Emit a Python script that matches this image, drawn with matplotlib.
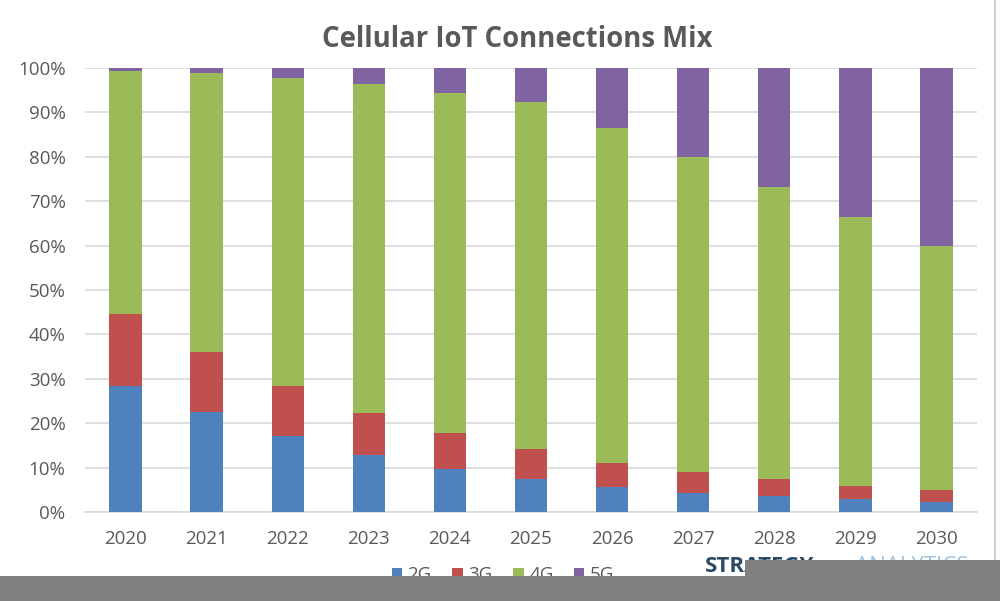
import matplotlib
matplotlib.use("Agg")
import matplotlib.pyplot as plt
from matplotlib.patches import Rectangle
from matplotlib.ticker import FuncFormatter, MultipleLocator
import numpy as np

years = ["2020", "2021", "2022", "2023", "2024", "2025", "2026", "2027", "2028", "2029", "2030"]
share_2g = [28.4, 22.5, 17.1, 12.8, 9.7, 7.4, 5.6, 4.3, 3.6, 2.9, 2.3]
share_3g = [16.2, 13.5, 11.3, 9.5, 8.1, 6.8, 5.4, 4.7, 3.8, 3.0, 2.7]
share_4g = [54.7, 62.9, 69.3, 74.1, 76.6, 78.1, 75.5, 71.0, 65.8, 60.5, 54.9]
share_5g = [0.7, 1.1, 2.3, 3.6, 5.6, 7.7, 13.5, 20.0, 26.8, 33.6, 40.1]
series_names = ["2G", "3G", "4G", "5G"]
colors = ["#4f81bd", "#c0504d", "#9bbb59", "#8064a2"]

plt.rcParams['font.family'] = ['Open Sans', 'DejaVu Sans']

fig = plt.figure(figsize=(10.0, 6.01), dpi=100)
ax = fig.add_axes([0.085, 0.148, 0.892, 0.739])

x = np.arange(len(years))
bottom = np.zeros(len(years))
handles = []
for name, vals, c in zip(series_names, [share_2g, share_3g, share_4g, share_5g], colors):
    b = ax.bar(x, vals, bottom=bottom, width=0.4, color=c, label=name, zorder=3)
    handles.append(b)
    bottom = bottom + np.array(vals)

ax.set_xlim(-0.5, len(years) - 0.5)
ax.set_ylim(0, 100)
ax.yaxis.set_major_locator(MultipleLocator(10))
ax.yaxis.set_major_formatter(FuncFormatter(lambda v, p: f"{int(round(v))}%"))
ax.set_xticks(x)
ax.set_xticklabels(years)
ax.grid(axis='y', color='#d9d9d9', linewidth=1.2, zorder=0)
for s in ['top', 'right', 'left']:
    ax.spines[s].set_visible(False)
ax.spines['bottom'].set_color('#d9d9d9')
ax.spines['bottom'].set_linewidth(1.2)
ax.tick_params(axis='both', length=0, labelsize=13.5, colors='#595959')
ax.tick_params(axis='y', pad=14)
ax.tick_params(axis='x', pad=13)

fig.text(0.517, 0.934, "Cellular IoT Connections Mix", ha='center', va='center',
         fontsize=19.8, fontweight='bold', color='#595959')

leg = fig.legend(handles=handles, labels=series_names, loc='center', bbox_to_anchor=(0.503, 0.043),
                 ncol=4, frameon=False, fontsize=13.5, handlelength=0.55, handleheight=0.55,
                 handletextpad=0.3, columnspacing=1.1, labelcolor='#595959')

# logo text
fig.text(0.705, 0.058, "STRATEGY", ha='left', va='center', fontsize=16, fontweight='bold', color='#2b4a66')
fig.text(0.855, 0.058, "ANALYTICS", ha='left', va='center', fontsize=16, color='#9cc3e0')

# right border line
fig.add_artist(plt.Line2D([0.995, 0.995], [0.0, 1.0], color='#d0d0d0', linewidth=1.5, zorder=5))

# gray cover band
fig.add_artist(Rectangle((0, 0), 1, 1 - 576 / 601, facecolor='#808080', edgecolor='none',
                         transform=fig.transFigure, zorder=10))
fig.add_artist(Rectangle((0.745, 0), 0.255, 1 - 560 / 601, facecolor='#808080', edgecolor='none',
                         transform=fig.transFigure, zorder=10))

fig.savefig("out.png", dpi=100, facecolor='white')
